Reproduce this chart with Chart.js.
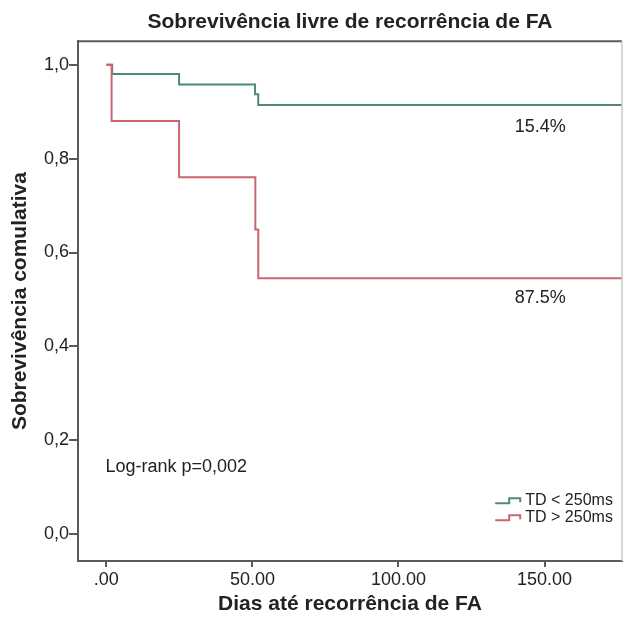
<!DOCTYPE html>
<html>
<head>
<meta charset="utf-8">
<script src="https://cdn.jsdelivr.net/npm/chart.js@4.4.0/dist/chart.umd.min.js"></script>
<style>
  html, body { margin:0; padding:0; background:#fff; }
</style>
</head>
<body>
<canvas id="km" width="623" height="626"></canvas>
<script>
// Curva de Kaplan-Meier - sobrevivência livre de recorrência de FA
// valores

const tempoCurto  = [0, 2, 24.9, 50.9, 52, 176.5];           // TD < 250ms
const survCurto   = [1.0, 0.98, 0.958, 0.937, 0.914, 0.914];
const tempoLongo  = [0, 1.8, 24.9, 51, 52, 176.5];           // TD > 250ms
const survLongo   = [1.0, 0.88, 0.76, 0.649, 0.545, 0.545];

const ticksX   = [0, 50, 100, 150];
const rotulosX = ['.00', '50.00', '100.00', '150.00'];
const ticksY   = [0, 0.2, 0.4, 0.6, 0.8, 1.0];
const rotulosY = ['0,0', '0,2', '0,4', '0,6', '0,8', '1,0'];

const rotulosSerie = ['TD < 250ms', 'TD > 250ms'];
const coresSerie   = ['#4f8a74', '#cc6571'];
const percentuais  = ['15.4%', '87.5%'];
const textoLogRank = 'Log-rank p=0,002';

const COR_TEXTO = '#222';
const FONTE = "'Liberation Sans', Arial, Helvetica, sans-serif";

function pontos(xs, ys){ return xs.map((x, i) => ({x: x, y: ys[i]})); }

// moldura de cima e da direita + textos dentro do gráfico
const extras = {
  id: 'extras',
  afterDraw(chart){
    const {ctx, chartArea: a, scales: {x, y}} = chart;
    ctx.save();
    ctx.lineWidth = 2;
    ctx.strokeStyle = '#5a5a5a';
    ctx.beginPath(); ctx.moveTo(a.left - 1, a.top); ctx.lineTo(a.right, a.top); ctx.stroke();
    ctx.lineWidth = 1.5;
    ctx.strokeStyle = '#c8c8c8';
    ctx.beginPath(); ctx.moveTo(a.right, a.top); ctx.lineTo(a.right, a.bottom); ctx.stroke();

    ctx.fillStyle = COR_TEXTO;
    ctx.font = '18px ' + FONTE;
    ctx.textBaseline = 'middle';
    ctx.textAlign = 'center';
    ctx.fillText(percentuais[0], x.getPixelForValue(148.5), y.getPixelForValue(0.8675));
    ctx.fillText(percentuais[1], x.getPixelForValue(148.5), y.getPixelForValue(0.503));
    ctx.textAlign = 'left';
    ctx.fillText(textoLogRank, x.getPixelForValue(-0.3), y.getPixelForValue(0.1427));

    // legenda com o simbolo de degrau
    const linhasY = [0.0724, 0.0362];
    ctx.font = '16px ' + FONTE;
    rotulosSerie.forEach((txt, i) => {
      const cy = y.getPixelForValue(linhasY[i]);
      const x0 = x.getPixelForValue(133.1);
      ctx.strokeStyle = coresSerie[i];
      ctx.lineWidth = 2;
      ctx.beginPath();
      ctx.moveTo(x0, cy + 3);
      ctx.lineTo(x0 + 14, cy + 3);
      ctx.lineTo(x0 + 14, cy - 2);
      ctx.lineTo(x0 + 25, cy - 2);
      ctx.lineTo(x0 + 25, cy + 2);
      ctx.stroke();
      ctx.fillStyle = COR_TEXTO;
      ctx.fillText(txt, x.getPixelForValue(143.4), cy);
    });
    ctx.restore();
  }
};

new Chart(document.getElementById('km').getContext('2d'), {
  type: 'line',
  data: {
    datasets: [
      { label: rotulosSerie[1], data: pontos(tempoLongo, survLongo), borderColor: coresSerie[1],
        borderWidth: 2, stepped: 'before', pointRadius: 0, fill: false },
      { label: rotulosSerie[0], data: pontos(tempoCurto, survCurto), borderColor: coresSerie[0],
        borderWidth: 2, stepped: 'before', pointRadius: 0, fill: false }
    ]
  },
  options: {
    responsive: false,
    animation: false,
    layout: { padding: { top: 0, right: 1, bottom: 0, left: 0 } },
    plugins: {
      legend: { display: false },
      tooltip: { enabled: false },
      title: {
        display: true,
        fullSize: false,
        text: 'Sobrevivência livre de recorrência de FA',
        color: COR_TEXTO,
        font: { family: FONTE, size: 21, weight: 'bold' },
        padding: { top: 10, bottom: 6 }
      }
    },
    scales: {
      x: {
        type: 'linear',
        min: -9.7, max: 176.5,
        afterBuildTicks: s => { s.ticks = ticksX.map(v => ({value: v})); },
        afterFit: s => { s.height = 65; },
        ticks: {
          color: COR_TEXTO, padding: 2, maxRotation: 0,
          font: { family: FONTE, size: 18 },
          callback: v => rotulosX[ticksX.indexOf(v)]
        },
        grid: { drawOnChartArea: false, drawTicks: true, tickLength: 6, color: '#5a5a5a', lineWidth: 2 },
        border: { display: true, color: '#5a5a5a', width: 2 },
        title: {
          display: true, text: 'Dias até recorrência de FA', color: COR_TEXTO,
          font: { family: FONTE, size: 21, weight: 'bold' },
          padding: { top: 0, bottom: 9 }
        }
      },
      y: {
        min: -0.057, max: 1.05,
        afterBuildTicks: s => { s.ticks = ticksY.map(v => ({value: v})); },
        afterFit: s => { s.width = 78; },
        ticks: {
          color: COR_TEXTO, padding: 0,
          font: { family: FONTE, size: 18 },
          callback: v => rotulosY[ticksY.findIndex(t => Math.abs(t - v) < 1e-9)]
        },
        grid: { drawOnChartArea: false, drawTicks: true, tickLength: 9, color: '#5a5a5a', lineWidth: 2 },
        border: { display: true, color: '#5a5a5a', width: 2 },
        title: {
          display: true, text: 'Sobrevivência comulativa', color: COR_TEXTO,
          font: { family: FONTE, size: 21, weight: 'bold' },
          padding: { top: 8, bottom: 0 }
        }
      }
    }
  },
  plugins: [extras]
});
</script>
</body>
</html>
